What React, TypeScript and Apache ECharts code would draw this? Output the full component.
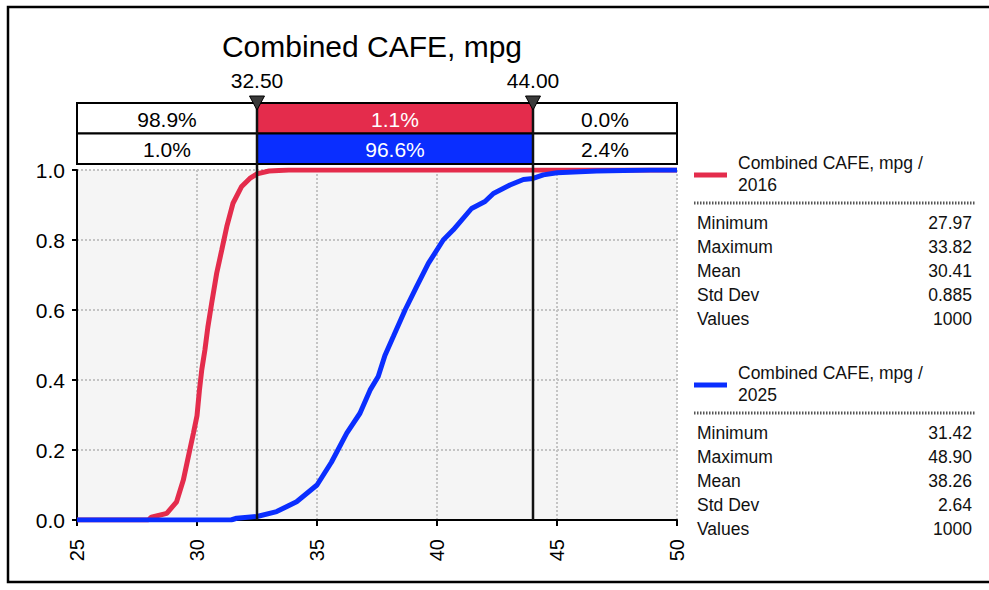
import React, { useEffect, useRef } from 'react';
import * as echarts from 'echarts';

// ---------- data ----------
const chartTitle = 'Combined CAFE, mpg';
const xTickValues = [25, 30, 35, 40, 45, 50];
const yTickValues = [0, 0.2, 0.4, 0.6, 0.8, 1.0];
const thresholds = [32.5, 44.0];
const thresholdLabels = ['32.50', '44.00'];

const seriesNames = ['Combined CAFE, mpg / 2016', 'Combined CAFE, mpg / 2025'];
const legendLine1 = 'Combined CAFE, mpg /';
const legendYears = ['2016', '2025'];

const cdf2016X = [25, 27.97, 28.1, 28.74, 29.15, 29.43, 29.64, 29.85, 30.0, 30.1, 30.2, 30.33, 30.45, 30.61, 30.82, 31.03, 31.24, 31.5, 31.85, 32.2, 32.5, 33.0, 33.82, 50];
const cdf2016Y = [0, 0, 0.008, 0.019, 0.052, 0.114, 0.181, 0.248, 0.298, 0.37, 0.43, 0.486, 0.55, 0.619, 0.705, 0.771, 0.838, 0.905, 0.952, 0.976, 0.989, 0.997, 1.0, 1.0];

const cdf2025X = [25, 31.42, 31.65, 32.5, 33.32, 34.15, 35.0, 35.6, 36.24, 36.79, 37.21, 37.55, 37.83, 38.18, 38.67, 39.15, 39.64, 40.26, 40.68, 41.44, 42.0, 42.35, 43.04, 43.6, 44.0, 44.43, 45.0, 46.65, 48.9, 50];
const cdf2025Y = [0, 0, 0.005, 0.01, 0.024, 0.052, 0.1, 0.165, 0.248, 0.305, 0.371, 0.41, 0.47, 0.524, 0.6, 0.667, 0.733, 0.8, 0.829, 0.89, 0.91, 0.933, 0.957, 0.973, 0.976, 0.986, 0.992, 0.997, 1.0, 1.0];

const pct2016 = ['98.9%', '1.1%', '0.0%'];
const pct2025 = ['1.0%', '96.6%', '2.4%'];

const statLabels = ['Minimum', 'Maximum', 'Mean', 'Std Dev', 'Values'];
const stats2016 = ['27.97', '33.82', '30.41', '0.885', '1000'];
const stats2025 = ['31.42', '48.90', '38.26', '2.64', '1000'];

// ---------- styles ----------
const FONT = "'Liberation Sans', Arial, sans-serif";
const RED = '#E42C4C';
const BLUE = '#0A2EFF';

const zip = (xs: number[], ys: number[]) => xs.map((x, i) => [x, ys[i]]);

export default function App() {
  const ref = useRef<HTMLDivElement>(null);

  useEffect(() => {
    document.body.style.margin = '0';
    const chart = echarts.init(ref.current!, null, { renderer: 'svg' });

    const option: any = {
      animation: false,
      backgroundColor: '#ffffff',
      grid: {
        left: 77,
        right: 312,
        top: 170,
        bottom: 70,
        show: true,
        backgroundColor: '#F5F5F5',
        borderWidth: 0,
        containLabel: false,
      },
      xAxis: {
        type: 'value',
        min: xTickValues[0],
        max: xTickValues[xTickValues.length - 1],
        interval: 5,
        axisLine: { show: true, onZero: false, lineStyle: { color: '#000', width: 2 } },
        axisTick: { show: true, length: 6, lineStyle: { color: '#000', width: 2 } },
        axisLabel: {
          rotate: 90,
          margin: 19,
          color: '#000',
          fontFamily: FONT,
          fontSize: 20,
        },
        splitLine: { show: true, lineStyle: { color: '#c4c4c4', type: [2, 2], width: 2 } },
      },
      yAxis: {
        type: 'value',
        min: yTickValues[0],
        max: yTickValues[yTickValues.length - 1],
        interval: 0.2,
        axisLine: { show: true, lineStyle: { color: '#000', width: 2 } },
        axisTick: { show: true, length: 5, lineStyle: { color: '#000', width: 2 } },
        axisLabel: {
          margin: 12,
          color: '#000',
          fontFamily: FONT,
          fontSize: 21,
          formatter: (v: number) => v.toFixed(1),
        },
        splitLine: { show: true, lineStyle: { color: '#c4c4c4', type: [2, 2], width: 2 } },
      },
      series: [
        {
          name: seriesNames[0],
          type: 'line',
          data: zip(cdf2016X, cdf2016Y),
          showSymbol: false,
          symbol: 'none',
          lineStyle: { color: RED, width: 5 },
          itemStyle: { color: RED },
          z: 2,
        },
        {
          name: seriesNames[1],
          type: 'line',
          data: zip(cdf2025X, cdf2025Y),
          showSymbol: false,
          symbol: 'none',
          lineStyle: { color: BLUE, width: 5 },
          itemStyle: { color: BLUE },
          z: 3,
        },
      ],
    };
    chart.setOption(option);

    const px = (v: number) => chart.convertToPixel({ xAxisIndex: 0 }, v) as number;
    const py = (v: number) => chart.convertToPixel({ yAxisIndex: 0 }, v) as number;

    const xL = px(xTickValues[0]);
    const xR = px(xTickValues[xTickValues.length - 1]);
    const yTop = py(1);
    const yBot = py(0);
    const t1 = px(thresholds[0]);
    const t2 = px(thresholds[1]);

    const tableTop = yTop - 67;
    const rowH = 30.5;
    const cellsX = [xL, t1, t2, xR];

    const g: any[] = [];

    // outer frame
    g.push({
      type: 'rect',
      shape: { x: 8, y: 7, width: 992, height: 575 },
      style: { fill: 'none', stroke: '#000', lineWidth: 2.5 },
      z: 100,
    });

    // title
    g.push({
      type: 'text',
      x: 372,
      y: 46,
      style: { text: chartTitle, fill: '#000', fontFamily: FONT, fontSize: 30, align: 'center', verticalAlign: 'middle' },
      z: 100,
    });

    // table
    const rows = [pct2016, pct2025];
    const midFill = [RED, BLUE];
    rows.forEach((row, r) => {
      for (let c = 0; c < 3; c++) {
        const x0 = cellsX[c];
        const x1 = cellsX[c + 1];
        const y0 = tableTop + r * rowH;
        g.push({
          type: 'rect',
          shape: { x: x0, y: y0, width: x1 - x0, height: rowH },
          style: { fill: c === 1 ? midFill[r] : '#fff', stroke: '#000', lineWidth: 2 },
          z: 100,
        });
        g.push({
          type: 'text',
          x: (x0 + x1) / 2,
          y: y0 + rowH / 2 + 1,
          style: {
            text: row[c],
            fill: c === 1 ? '#fff' : '#000',
            fontFamily: FONT,
            fontSize: 21,
            align: 'center',
            verticalAlign: 'middle',
          },
          z: 101,
        });
      }
    });

    // threshold lines, markers, labels
    [t1, t2].forEach((tx, i) => {
      g.push({
        type: 'line',
        shape: { x1: tx, y1: tableTop, x2: tx, y2: yBot },
        style: { stroke: '#111', lineWidth: 2.5 },
        z: 102,
      });
      g.push({
        type: 'polygon',
        shape: { points: [[tx - 7.5, tableTop - 7], [tx + 7.5, tableTop - 7], [tx, tableTop + 7]] },
        style: { fill: '#3a3a3a', stroke: '#000', lineWidth: 1 },
        z: 103,
      });
      g.push({
        type: 'text',
        x: tx,
        y: 80,
        style: { text: thresholdLabels[i], fill: '#000', fontFamily: FONT, fontSize: 21, align: 'center', verticalAlign: 'middle' },
        z: 103,
      });
    });

    // legend / statistics panels
    const blocks = [
      { color: RED, year: legendYears[0], stats: stats2016, top: 0 },
      { color: BLUE, year: legendYears[1], stats: stats2025, top: 210 },
    ];
    blocks.forEach((b) => {
      const o = b.top;
      g.push({
        type: 'line',
        shape: { x1: 694, y1: 175 + o, x2: 727, y2: 175 + o },
        style: { stroke: b.color, lineWidth: 5 },
        z: 100,
      });
      g.push({
        type: 'text',
        x: 738,
        y: 163 + o,
        style: { text: legendLine1, fill: '#111', fontFamily: FONT, fontSize: 17.5, align: 'left', verticalAlign: 'middle' },
        z: 100,
      });
      g.push({
        type: 'text',
        x: 738,
        y: 185 + o,
        style: { text: b.year, fill: '#111', fontFamily: FONT, fontSize: 17.5, align: 'left', verticalAlign: 'middle' },
        z: 100,
      });
      g.push({
        type: 'line',
        shape: { x1: 694, y1: 203 + o, x2: 975, y2: 203 + o },
        style: { stroke: '#555', lineWidth: 3, lineDash: [1.5, 1.5] },
        z: 100,
      });
      statLabels.forEach((lab, i) => {
        const y = 223 + o + i * 24;
        g.push({
          type: 'text',
          x: 697,
          y,
          style: { text: lab, fill: '#111', fontFamily: FONT, fontSize: 17.5, align: 'left', verticalAlign: 'middle' },
          z: 100,
        });
        g.push({
          type: 'text',
          x: 972,
          y,
          style: { text: b.stats[i], fill: '#111', fontFamily: FONT, fontSize: 17.5, align: 'right', verticalAlign: 'middle' },
          z: 100,
        });
      });
    });

    chart.setOption({ graphic: g });

    return () => chart.dispose();
  }, []);

  return <div ref={ref} style={{ width: 989, height: 590 }} />;
}
